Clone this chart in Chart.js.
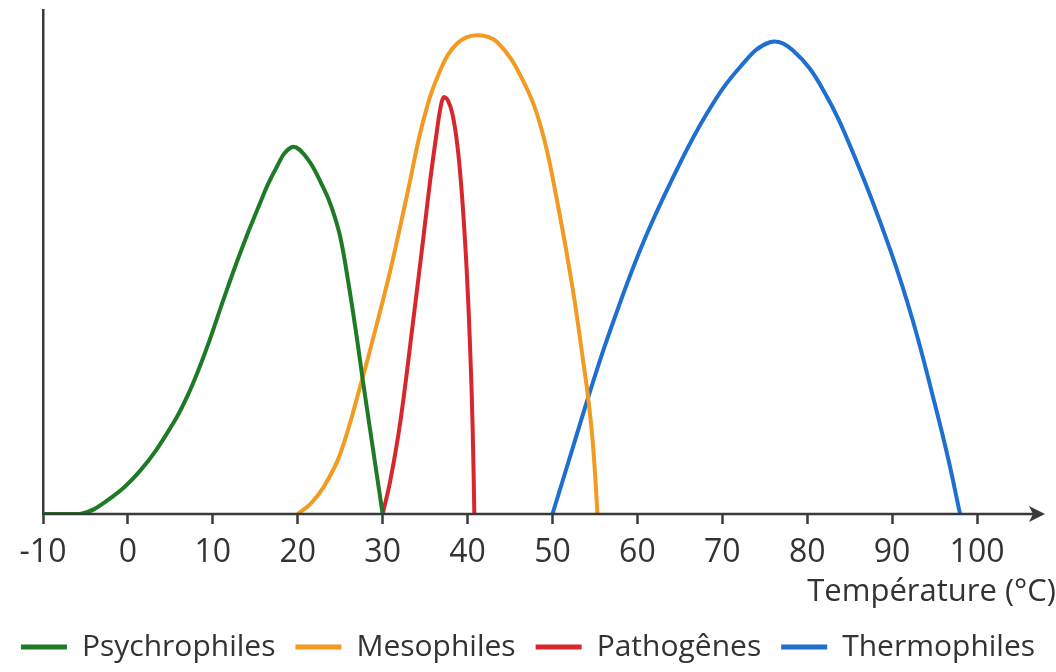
<!DOCTYPE html>
<html>
<head>
<meta charset="utf-8">
<script src="https://cdn.jsdelivr.net/npm/chart.js@4.4.1/dist/chart.umd.min.js"></script>
<style>
  html, body { margin: 0; padding: 0; background: #ffffff; }
  #wrap { width: 1056px; height: 672px; }
</style>
</head>
<body>
<div id="wrap"><canvas id="c" width="1056" height="672"></canvas></div>
<script>
// ---- data ----
const xTickValues = [-10, 0, 10, 20, 30, 40, 50, 60, 70, 80, 90, 100];
const seriesNames = ['Psychrophiles', 'Mesophiles', 'Pathogênes', 'Thermophiles'];
const seriesColors = ['#1f7a26', '#f29a22', '#d7262c', '#1f6fd1'];

const psychroTemp = [-10, -5.6, -2.5, 1.4, 5.3, 7.3, 9.3, 11.2, 13.2, 15.2, 17.2, 19.3, 21.1, 23.0, 24.0, 25.0, 26.0, 27.0, 27.6, 28.8, 30];
const psychroVal  = [0, 0, 2.6, 8.5, 17.9, 24.5, 33, 42.3, 51.7, 60.2, 67.8, 72.8, 70.6, 64.8, 60.8, 55, 45.5, 34.5, 27.3, 13.6, 0];

const mesoTemp = [20.0, 21.5, 23.0, 25.0, 27.6, 28.9, 30.9, 32.9, 34.8, 36.8, 38.8, 41.1, 43.5, 46.5, 48.7, 50.5, 52.4, 53.6, 54.2, 54.8, 55.3];
const mesoVal  = [0, 2, 5.2, 11.9, 26.8, 35, 48.3, 63.5, 78.1, 88.1, 93.4, 95.0, 93.6, 86.1, 76.4, 62.5, 44.5, 30.5, 23.1, 13.1, 0];

const pathoTemp = [30, 30.9, 32.1, 33.6, 34.8, 35.6, 36.4, 36.8, 37.2, 37.7, 38.2, 38.7, 39.1, 39.5, 39.9, 40.3, 40.6, 40.8];
const pathoVal  = [0, 6.6, 18.5, 38.4, 54.9, 66.2, 76.1, 80.5, 82.7, 82.0, 79.5, 74.5, 68.2, 59.5, 48.3, 33, 17, 0];

const thermoTemp = [50, 52.4, 54.2, 56.4, 60.3, 64.2, 68.2, 72.1, 75.6, 78.3, 81.9, 85.9, 89.8, 92.5, 95.0, 96.6, 98.0];
const thermoVal  = [0, 13.2, 23.1, 34.5, 52.3, 66.8, 79.5, 88.7, 93.6, 92, 84.1, 69.6, 52.3, 38, 22, 11, 0];

const seriesTemps = [psychroTemp, mesoTemp, pathoTemp, thermoTemp];
const seriesVals  = [psychroVal, mesoVal, pathoVal, thermoVal];

const axisTitle = 'Température (°C)';
const FONT = "'Open Sans', 'DejaVu Sans', sans-serif";
const TEXT = '#333333';
const AXIS = '#3a3a3a';

const datasets = seriesNames.map((name, i) => ({
  label: name,
  data: seriesTemps[i].map((t, k) => ({ x: t, y: seriesVals[i][k] })),
  borderColor: seriesColors[i],
  backgroundColor: seriesColors[i],
  borderWidth: 4,
  pointRadius: 0,
  fill: false,
  tension: 0.4
}));

// x axis line ending in an arrow head (decoration only)
const arrowPlugin = {
  id: 'axisArrow',
  afterDraw(chart) {
    const { ctx, chartArea } = chart;
    const y = chartArea.bottom;
    const tip = chartArea.right - 11;
    ctx.save();
    ctx.strokeStyle = AXIS;
    ctx.lineWidth = 2.5;
    ctx.beginPath();
    ctx.moveTo(chartArea.left, y);
    ctx.lineTo(tip - 8, y);
    ctx.stroke();
    ctx.fillStyle = AXIS;
    ctx.beginPath();
    ctx.moveTo(tip - 16, y - 8);
    ctx.lineTo(tip, y);
    ctx.lineTo(tip - 16, y + 8);
    ctx.lineTo(tip - 12, y);
    ctx.closePath();
    ctx.fill();
    ctx.restore();
  }
};

new Chart(document.getElementById('c'), {
  type: 'line',
  data: { datasets },
  plugins: [arrowPlugin],
  options: {
    responsive: false,
    animation: false,
    devicePixelRatio: 1,
    layout: { padding: { left: 0, right: 0, top: 10, bottom: 0 } },
    scales: {
      x: {
        type: 'linear',
        min: -10,
        max: 109.3,
        afterBuildTicks: (s) => { s.ticks = xTickValues.map(v => ({ value: v })); },
        afterFit: (s) => { s.height = 98; },
        ticks: {
          font: { family: FONT, size: 32 },
          color: TEXT,
          padding: 10,
          maxRotation: 0,
          autoSkip: false
        },
        grid: {
          display: true,
          drawOnChartArea: false,
          drawTicks: true,
          tickLength: 10,
          tickWidth: 2.5,
          tickColor: AXIS
        },
        border: { display: false },
        title: {
          display: true,
          text: axisTitle,
          align: 'end',
          color: TEXT,
          font: { family: FONT, size: 31 },
          padding: { top: 0, bottom: 1 }
        }
      },
      y: {
        type: 'linear',
        min: 0,
        max: 100,
        afterFit: (s) => { s.width = 43; },
        ticks: { display: false },
        grid: { display: false, drawTicks: false },
        border: { display: true, color: AXIS, width: 2.5 }
      }
    },
    plugins: {
      tooltip: { enabled: false },
      legend: {
        display: true,
        position: 'bottom',
        labels: {
          font: { family: FONT, size: 30 },
          color: TEXT,
          boxWidth: 46,
          boxHeight: 5,
          padding: 20,
          generateLabels(chart) {
            const items = Chart.defaults.plugins.legend.labels.generateLabels(chart);
            items.forEach(it => { it.lineWidth = 0; it.strokeStyle = 'transparent'; });
            return items;
          }
        }
      }
    }
  }
});
</script>
</body>
</html>
